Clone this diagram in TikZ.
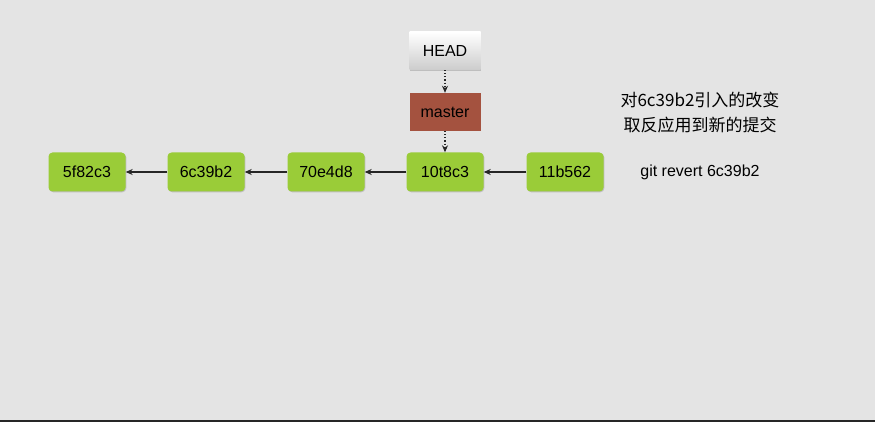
\documentclass[tikz,border=0pt]{standalone}
\usepackage{fontspec}
\setmainfont{Liberation Sans}
\newfontfamily\cjk{Noto Sans CJK SC}
\usetikzlibrary{arrows.meta,shadows}
\definecolor{bg}{HTML}{E4E4E4}
\definecolor{commitgreen}{HTML}{9ACC38}
\definecolor{masterred}{HTML}{A4523F}
\tikzset{
  commit/.style={rounded corners=4pt, fill=commitgreen, minimum width=77pt, minimum height=39pt,
    inner sep=0pt, font=\fontsize{16pt}{18pt}\selectfont,
    drop shadow={shadow xshift=0.8pt, shadow yshift=-0.8pt, fill=black!35, opacity=0.6}},
  headbox/.style={top color=white, bottom color=black!20, minimum width=71pt, minimum height=38pt,
    inner sep=0pt, font=\fontsize{16pt}{18pt}\selectfont,
    drop shadow={shadow xshift=0.8pt, shadow yshift=-0.8pt, fill=black!35, opacity=0.6}},
  branchbox/.style={fill=masterred, minimum width=71pt, minimum height=38pt,
    inner sep=0pt, font=\fontsize{16pt}{18pt}\selectfont},
  parentarrow/.style={-{Stealth[length=7pt,width=6pt]}, line width=1.1pt, draw=black!85},
  refarrow/.style={-{Stealth[length=7pt,width=6pt]}, line width=1.1pt, dotted, draw=black!85},
  note/.style={font=\cjk\fontsize{17pt}{19pt}\selectfont, inner sep=0pt},
}
\begin{document}
\begin{tikzpicture}[x=1pt,y=-1pt]
\fill[bg] (0,0) rectangle (875,422);
\useasboundingbox (0,0) rectangle (875,422);
\draw[black!85, line width=2pt] (0,421) -- (875,421);
\node[commit] (c1) at (87,172) {5f82c3};
\node[commit] (c2) at (206,172) {6c39b2};
\node[commit] (c3) at (326,172) {70e4d8};
\node[commit] (c4) at (445,172) {10t8c3};
\node[commit] (c5) at (565,172) {11b562};
\node[headbox] (head) at (445,51) {HEAD};
\node[branchbox] (master) at (445,112) {master};
\draw[parentarrow] (c5) -- (c4);
\draw[parentarrow] (c4) -- (c3);
\draw[parentarrow] (c3) -- (c2);
\draw[parentarrow] (c2) -- (c1);
\draw[refarrow] (head) -- (master);
\draw[refarrow] (master) -- (c4);
\node[note] (n1) at (700,100) {对6c39b2引入的改变};
\node[note] (n2) at (700,125) {取反应用到新的提交};
\node[note, font=\fontsize{16pt}{18pt}\selectfont] (cmd) at (700,172) {git revert 6c39b2};
\end{tikzpicture}
\end{document}
